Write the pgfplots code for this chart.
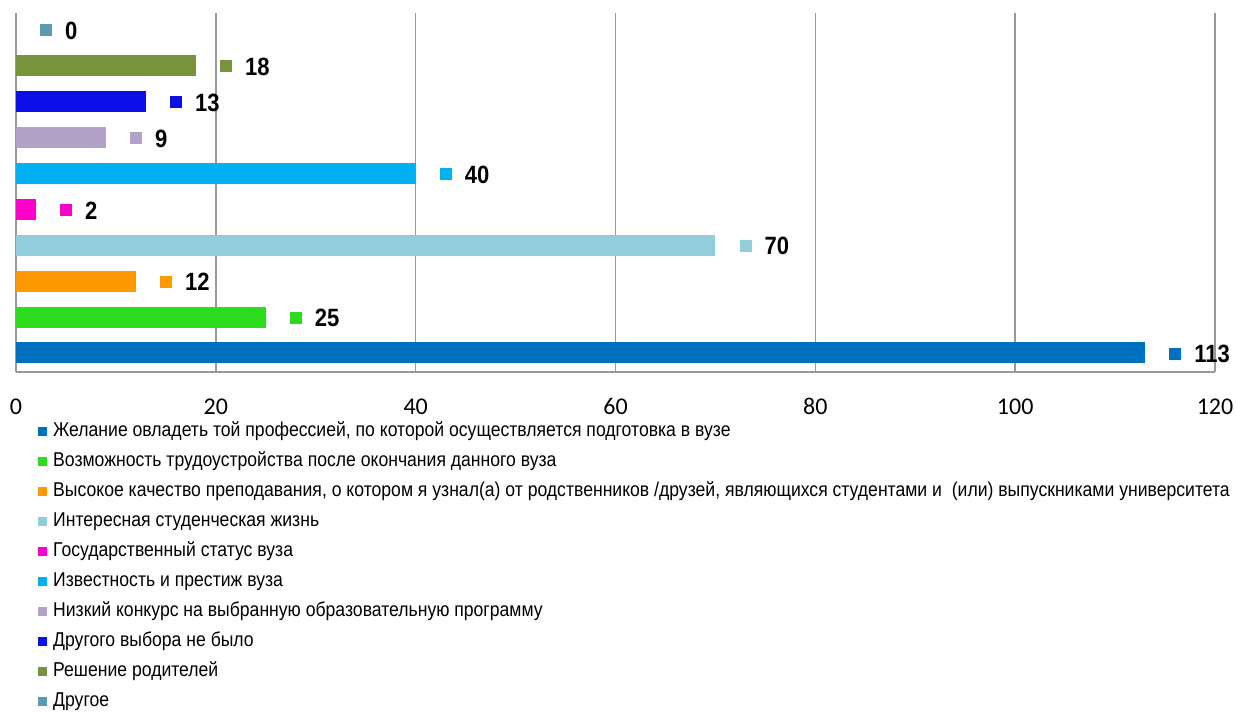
\documentclass[border=0pt]{standalone}
\usepackage{fontspec}
\setmainfont{Carlito}
\newfontfamily\narrow{Liberation Sans}[FakeStretch=0.88]
\usepackage{pgfplots}
\pgfplotsset{compat=1.18}
\definecolor{c0}{HTML}{0070C0}
\definecolor{c1}{HTML}{2EDC1E}
\definecolor{c2}{HTML}{FF9900}
\definecolor{c3}{HTML}{92CDDC}
\definecolor{c4}{HTML}{FF00CC}
\definecolor{c5}{HTML}{00B0F0}
\definecolor{c6}{HTML}{B3A2C7}
\definecolor{c7}{HTML}{0A10E6}
\definecolor{c8}{HTML}{77933C}
\definecolor{c9}{HTML}{5A9BB0}
\definecolor{gridc}{HTML}{999999}
\newcommand\lab[1]{\textcolor{#1}{\raisebox{3bp}{\rule{12bp}{12bp}}}\hspace{13bp}\pgfmathprintnumber{\pgfplotspointmeta}}
\begin{document}
\begin{tikzpicture}
\begin{axis}[
  name=ax,
  scale only axis, width=1199bp, height=359bp,
  xmin=0, xmax=120, ymin=-0.53, ymax=9.47,
  xbar, bar width=21bp, bar shift=0pt,
  xtick={0,20,...,120}, ytick=\empty,
  major tick length=0pt,
  xmajorgrids, grid style={draw=gridc, line width=1.5bp},
  axis lines*=left,
  axis line style={draw=gridc, line width=1.5bp},
  /pgf/number format/assume math mode=true,
  xticklabel style={anchor=base, inner sep=0pt, yshift=-42bp, font=\fontsize{24bp}{24bp}\selectfont},
  point meta=x,
  every node near coord/.append style={anchor=west, xshift=24bp, yshift=-1bp, inner sep=0pt, text=black,
     font=\narrow\bfseries\fontsize{25bp}{25bp}\selectfont},
  legend style={at={(0,0)}, anchor=north west, xshift=22bp, yshift=-50bp,
     draw=none, fill=none, inner sep=0pt, row sep=12bp,
     font=\narrow\fontsize{20bp}{20bp}\selectfont,
     nodes={inner sep=0pt, text height=14bp, text depth=4bp}},
  legend cell align=left,
  legend image code/.code={\fill[#1,draw=none] (0bp,-4.5bp) rectangle (9bp,4.5bp); \path (15bp,0bp);},
]
\addplot[fill=c0, draw=none, nodes near coords={\lab{c0}}] coordinates {(113,0)};
\addplot[fill=c1, draw=none, nodes near coords={\lab{c1}}] coordinates {(25,1)};
\addplot[fill=c2, draw=none, nodes near coords={\lab{c2}}] coordinates {(12,2)};
\addplot[fill=c3, draw=none, nodes near coords={\lab{c3}}] coordinates {(70,3)};
\addplot[fill=c4, draw=none, nodes near coords={\lab{c4}}] coordinates {(2,4)};
\addplot[fill=c5, draw=none, nodes near coords={\lab{c5}}] coordinates {(40,5)};
\addplot[fill=c6, draw=none, nodes near coords={\lab{c6}}] coordinates {(9,6)};
\addplot[fill=c7, draw=none, nodes near coords={\lab{c7}}] coordinates {(13,7)};
\addplot[fill=c8, draw=none, nodes near coords={\lab{c8}}] coordinates {(18,8)};
\addplot[fill=c9, draw=none, nodes near coords={\lab{c9}}] coordinates {(0,9)};
\legend{Желание овладеть той профессией{,} по которой осуществляется подготовка в вузе,
Возможность трудоустройства после окончания данного вуза,
Высокое качество преподавания{,} о котором я узнал(а) от родственников /друзей{,} являющихся студентами и \ (или) выпускниками университета,
Интересная студенческая жизнь,
Государственный статус вуза,
Известность и престиж вуза,
Низкий конкурс на выбранную образовательную программу,
Другого выбора не было,
Решение родителей,
Другое}
\end{axis}
\pgfresetboundingbox
\path ([xshift=-16bp,yshift=-339bp]ax.south west) rectangle ([xshift=21bp,yshift=13bp]ax.north east);
\end{tikzpicture}
\end{document}
